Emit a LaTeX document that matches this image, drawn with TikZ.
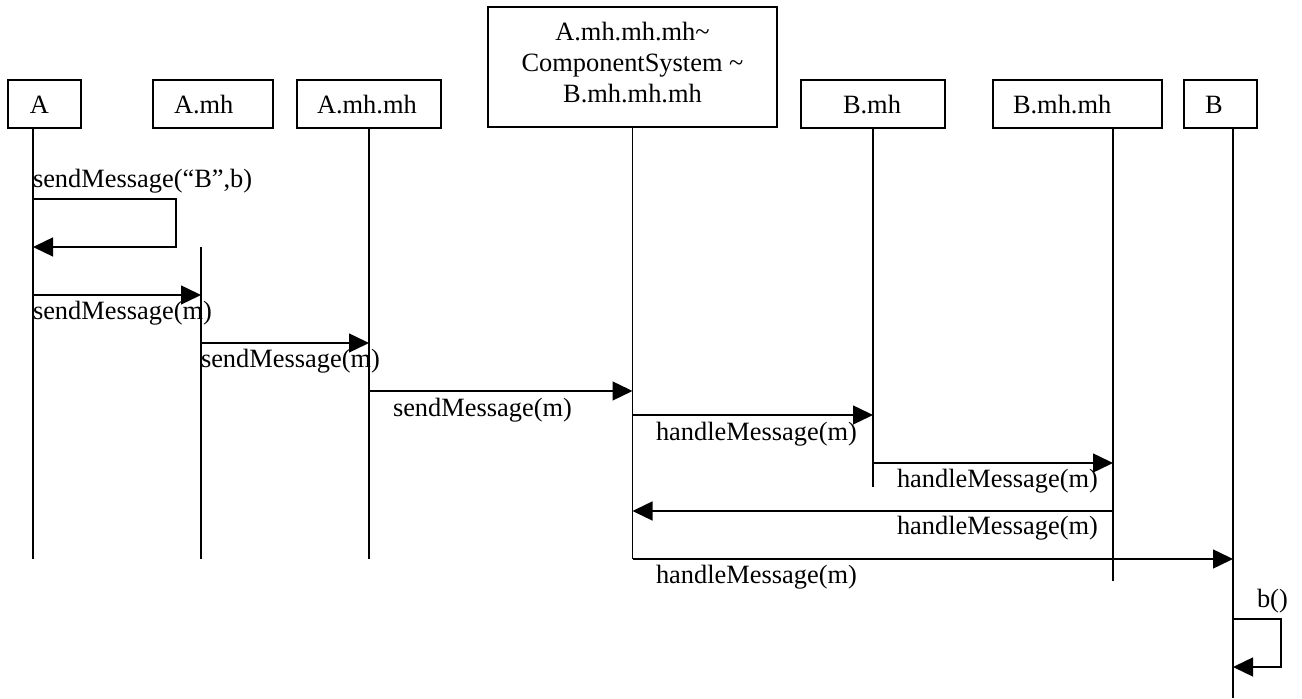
\documentclass[tikz,border=0pt]{standalone}
\usepackage{fontspec}
\setmainfont{Liberation Serif}
\usetikzlibrary{arrows.meta}
\begin{document}
\begin{tikzpicture}[x=0.5pt,y=-0.5pt,
  font=\fontsize{13.2}{15.5}\selectfont,
  every node/.style={inner sep=0pt, outer sep=0pt},
  box/.style={draw, line width=0.7pt, anchor=north west, minimum height=24pt},
  objname/.style={anchor=base west},
  lifeline/.style={line width=0.7pt},
  msg/.style={line width=0.7pt, -{Triangle[length=10pt,width=9.5pt]}},
  lbl/.style={anchor=base west}]
\useasboundingbox (0,0) rectangle (1302,699);

% object boxes
\node[box, minimum width=36.5pt] (bA)    at (8,80)    {};
\node[box, minimum width=60pt]   (bAmh)  at (153,80)  {};
\node[box, minimum width=72pt]   (bAmhmh) at (297,80) {};
\node[box, minimum width=144.5pt, minimum height=60pt] (bCS) at (488,7) {};
\node[box, minimum width=72pt]   (bBmh)  at (801,80)  {};
\node[box, minimum width=84.5pt] (bBmhmh) at (993,80) {};
\node[box, minimum width=36.5pt] (bB)    at (1184,80) {};

% object names
\node[objname] (tA)     at (30,114)   {A};
\node[objname] (tAmh)   at (174,114)  {A.mh};
\node[objname] (tAmhmh) at (317,114)  {A.mh.mh};
\node[objname] (tBmh)   at (843,114)  {B.mh};
\node[objname] (tBmhmh) at (1013,114) {B.mh.mh};
\node[objname] (tB)     at (1205,114) {B};
\node[align=center, anchor=center] (tCS) at (632.5,63)
  {A.mh.mh.mh\textasciitilde\\ComponentSystem \textasciitilde\\B.mh.mh.mh};

% lifeline ends
\coordinate (A-end)      at (33,559);
\coordinate (Amh-start)  at (201,247);
\coordinate (Amh-end)    at (201,559);
\coordinate (Amhmh-end)  at (369,559);
\coordinate (CS-end)     at (632.5,559);
\coordinate (Bmh-end)    at (873,487);
\coordinate (Bmhmh-end)  at (1113,581);
\coordinate (B-end)      at (1233,698);

\draw[lifeline] (A-end |- bA.south) -- (A-end);
\draw[lifeline] (Amh-start) -- (Amh-end);
\draw[lifeline] (Amhmh-end |- bAmhmh.south) -- (Amhmh-end);
\draw[lifeline] (CS-end |- bCS.south) -- (CS-end);
\draw[lifeline] (Bmh-end |- bBmh.south) -- (Bmh-end);
\draw[lifeline] (Bmhmh-end |- bBmhmh.south) -- (Bmhmh-end);
\draw[lifeline] (B-end |- bB.south) -- (B-end);

% message heights
\coordinate (loopA-top) at (176,199);
\coordinate (loopA-bot) at (176,247);
\coordinate (m2) at (0,295);
\coordinate (m3) at (0,343);
\coordinate (m4) at (0,391);
\coordinate (m5) at (0,415);
\coordinate (m6) at (0,463);
\coordinate (m7) at (0,511);
\coordinate (m8) at (0,559);
\coordinate (loopB-top) at (1281,619);
\coordinate (loopB-bot) at (1281,667);

% messages
\draw[msg] (A-end |- loopA-top) -- (loopA-top) -- (loopA-bot) -- (A-end |- loopA-bot);
\draw[msg] (A-end |- m2) -- (Amh-end |- m2);
\draw[msg] (Amh-end |- m3) -- (Amhmh-end |- m3);
\draw[msg] (Amhmh-end |- m4) -- (CS-end |- m4);
\draw[msg] (CS-end |- m5) -- (Bmh-end |- m5);
\draw[msg] (Bmh-end |- m6) -- (Bmhmh-end |- m6);
\draw[msg] (Bmhmh-end |- m7) -- (CS-end |- m7);
\draw[msg] (CS-end |- m8) -- (B-end |- m8);
\draw[msg] (B-end |- loopB-top) -- (loopB-top) -- (loopB-bot) -- (B-end |- loopB-bot);

% message labels
\node[lbl] (l1) at (33,188)   {sendMessage(“B”,b)};
\node[lbl] (l2) at (33,320)   {sendMessage(m)};
\node[lbl] (l3) at (201,368)  {sendMessage(m)};
\node[lbl] (l4) at (393,417)  {sendMessage(m)};
\node[lbl] (l5) at (656,441)  {handleMessage(m)};
\node[lbl] (l6) at (897,488)  {handleMessage(m)};
\node[lbl] (l7) at (897,535)  {handleMessage(m)};
\node[lbl] (l8) at (656,584)  {handleMessage(m)};
\node[lbl] (l9) at (1257,608) {b()};
\end{tikzpicture}
\end{document}
